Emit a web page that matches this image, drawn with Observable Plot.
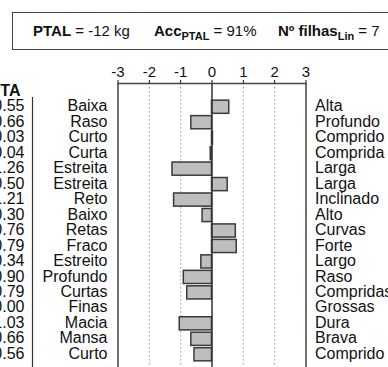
<!DOCTYPE html>
<html>
<head>
<meta charset="utf-8">
<script src="https://cdn.jsdelivr.net/npm/d3@7"></script>
<script src="https://cdn.jsdelivr.net/npm/@observablehq/plot@0.6"></script>
<style>
  html, body { margin: 0; padding: 0; background: #fff; }
  #wrap { position: relative; width: 388px; height: 367px; overflow: hidden; font-family: "Liberation Sans", Arial, sans-serif; color: #111; }
  #box { position: absolute; left: 12px; top: 12px; width: 400px; height: 36px; border: 1.5px solid #444; box-sizing: content-box; }
  .item { position: absolute; top: 0; line-height: 36px; font-size: 15px; white-space: nowrap; }
  .item b { font-weight: bold; }
  .item sub { font-size: 11px; font-weight: bold; vertical-align: -4px; line-height: 0; }
  #chart { position: absolute; left: 0; top: 0; }
</style>
</head>
<body>
<div id="wrap">
  <div id="chart"></div>
  <div id="box"></div>
</div>
<script>
// ---- data ----
const lowLabels = ["Baixa","Raso","Curto","Curta","Estreita","Estreita","Reto","Baixo","Retas","Fraco","Estreito","Profundo","Curtas","Finas","Macia","Mansa","Curto"];
const highLabels = ["Alta","Profundo","Comprido","Comprida","Larga","Larga","Inclinado","Alto","Curvas","Forte","Largo","Raso","Compridas","Grossas","Dura","Brava","Comprido"];
const values = [0.55,-0.66,0.03,-0.04,-1.26,0.50,-1.21,-0.30,0.76,0.79,-0.34,-0.90,-0.79,0.00,-1.03,-0.66,-0.56];
const xTicks = [-3,-2,-1,0,1,2,3];
const gridTicks = [-2,-1,1,2];
const valueColumnTitle = "PTA";
const headerItems = [
  {bold: "PTAL", sub: "", rest: " = -12 kg"},
  {bold: "Acc", sub: "PTAL", rest: " = 91%"},
  {bold: "Nº filhas", sub: "Lin", rest: " = 7"}
];
const headerLeft = [20, 141, 265];

// ---- header box ----
const box = document.getElementById("box");
headerItems.forEach((h, i) => {
  const s = document.createElement("span");
  s.className = "item";
  s.style.left = headerLeft[i] + "px";
  s.innerHTML = `<b>${h.bold}</b>${h.sub ? `<sub>${h.sub}</sub>` : ""}${h.rest}`;
  box.appendChild(s);
});

// ---- chart ----
const rows = values.map((v, i) => ({i, v, low: lowLabels[i], high: highLabels[i]}));
const fmt = d3.format(".2f");

const chart = Plot.plot({
  width: 388,
  height: 380,
  marginLeft: 117.5,
  marginRight: 82.5,
  marginTop: 83,
  marginBottom: 0,
  style: {fontFamily: "'Liberation Sans', Arial, sans-serif", fontSize: "15px", color: "#111", background: "transparent"},
  x: {domain: [-3, 3], axis: "top", ticks: xTicks, tickSize: 4, tickPadding: 3, label: null, tickFormat: d => String(d)},
  y: {type: "band", domain: d3.range(rows.length), range: [99, 362], round: false, paddingInner: 0.15, paddingOuter: 0.075, axis: null},
  marks: [
    Plot.ruleX(gridTicks, {stroke: "#9a9a9a", strokeDasharray: "1.5,2.5"}),
    Plot.barX(rows, {x: "v", y: "i", fill: "#bebebe", stroke: "#3a3a3a", strokeWidth: 1.5}),
    Plot.ruleX([0], {stroke: "#333", strokeWidth: 1.5}),
    Plot.frame({stroke: "#444", strokeWidth: 1.5}),
    Plot.text(rows, {y: "i", text: "low", frameAnchor: "left", textAnchor: "end", dx: -10.5, fontSize: 16, dy: -1}),
    Plot.text(rows, {y: "i", text: "high", frameAnchor: "right", textAnchor: "start", dx: 9, fontSize: 16, dy: -1}),
    Plot.text(rows, {y: "i", text: d => fmt(Math.abs(d.v)), frameAnchor: "left", textAnchor: "end", dx: -93.5, fontSize: 16, dy: -1}),
    Plot.text([valueColumnTitle], {text: d => d, frameAnchor: "top-left", textAnchor: "end", dx: -97.5, dy: 1, fontWeight: "bold", fontSize: 16}),
    Plot.ruleX([-3], {dx: -85.5, insetTop: 14, stroke: "#333", strokeWidth: 1.2})
  ]
});
document.getElementById("chart").appendChild(chart);
</script>
</body>
</html>
